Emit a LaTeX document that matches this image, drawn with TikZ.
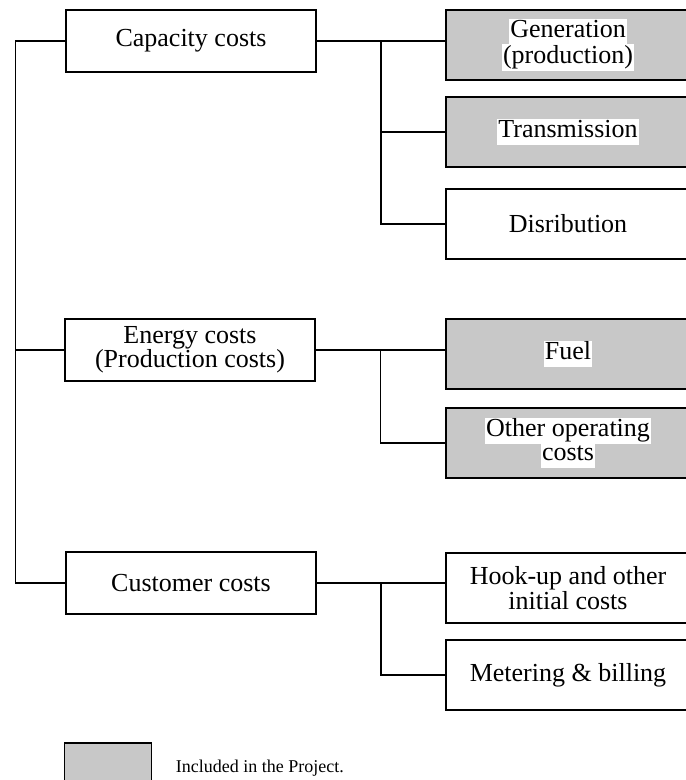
\documentclass[tikz,border=0pt]{standalone}
\usepackage{fontspec}
\setmainfont{Liberation Serif}
\usepackage{tikz}
\usetikzlibrary{positioning, calc}
\definecolor{cShade}{RGB}{200,200,200}
\newcommand{\wbg}[1]{{\setlength{\fboxsep}{1pt}\colorbox{white}{\strut #1}}}
\tikzset{
	costbox/.style ={rectangle, draw=black, line width=1.6pt, minimum width=250pt, minimum height=62pt, align=center, fill=white, font=\fontsize{26}{24}\selectfont},
	itembox/.style ={rectangle, draw=black, line width=1.6pt, minimum width=244pt, minimum height=70pt, align=center, fill=white, inner sep=1pt, font=\fontsize{26}{23}\selectfont},
	incl/.style    ={fill=cShade},
	wire/.style    ={line width=1.3pt},
}
\begin{document}
\begin{tikzpicture}[x=1pt, y=-1pt]
	\path[use as bounding box, clip] (0,0) rectangle (686,780);
	% main cost groups
	\node[costbox] (cap)  at (191,41)  {Capacity costs};
	\node[costbox] (en)   at (190,350) {Energy costs\\(Production costs)};
	\node[costbox] (cust) at (191,583) {Customer costs};
	% cost items
	\node[itembox, incl] (gen)   at (568,45)  {\wbg{Generation}\\[-2pt]\wbg{(production)}};
	\node[itembox, incl] (trans) at (568,132) {\wbg{Transmission}};
	\node[itembox]       (dist)  at (568,224) {Disribution};
	\node[itembox, incl] (fuel)  at (568,354) {\wbg{Fuel}};
	\node[itembox, incl] (other) at (568,443) {\wbg{Other operating}\\[-2pt]\wbg{costs}};
	\node[itembox]       (hook)  at (568,588) {Hook-up and other\\initial costs};
	\node[itembox]       (meter) at (568,675) {Metering \& billing};
	% trunk on the left
	\coordinate (trunk) at ($(cap.west)+(-50,0)$);
	\draw[wire] (cap.west) -- (trunk) |- (cust.west);
	\draw[wire] (en.west) -- (en.west -| trunk);
	% branches on the right
	\coordinate (capj)  at ($(cap.east)!0.5!(cap.east -| gen.west)$);
	\coordinate (enj)   at ($(en.east)!0.5!(en.east -| fuel.west)$);
	\coordinate (custj) at ($(cust.east)!0.5!(cust.east -| hook.west)$);
	\draw[wire] (cap.east) -- (cap.east -| gen.west);
	\draw[wire] (capj) |- (trans.west);
	\draw[wire] (capj) |- (dist.west);
	\draw[wire] (en.east) -- (en.east -| fuel.west);
	\draw[wire] (enj) |- (other.west);
	\draw[wire] (cust.east) -- (cust.east -| hook.west);
	\draw[wire] (custj) |- (meter.west);
	% legend
	\node[rectangle, draw=black, line width=1.6pt, incl, minimum width=87pt, minimum height=50pt] (key) at (108,768) {};
	\node[right=20pt of key, font=\fontsize{18}{20}\selectfont] (keytext) {Included in the Project.};
\end{tikzpicture}
\end{document}
